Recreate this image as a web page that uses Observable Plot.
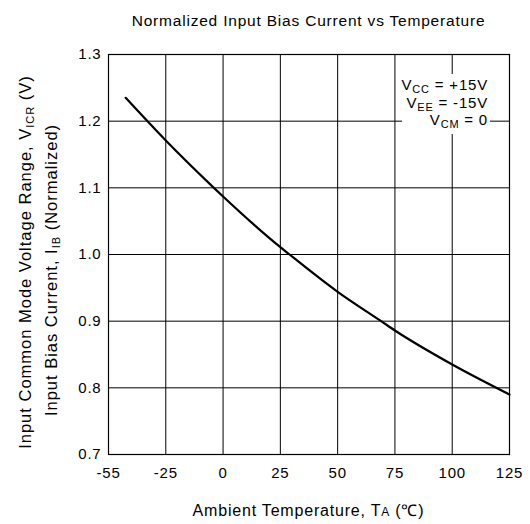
<!DOCTYPE html>
<html><head><meta charset="utf-8">
<script src="https://cdn.jsdelivr.net/npm/d3@7"></script>
<script src="https://cdn.jsdelivr.net/npm/@observablehq/plot@0.6"></script>
<style>body{margin:0;background:#fff} svg{display:block}</style>
</head><body><div id="chart"></div>
<script>
const tempTicks = [-55, -25, 0, 25, 50, 75, 100, 125];
const biasTicks = [0.7, 0.8, 0.9, 1.0, 1.1, 1.2, 1.3];
const curveTemp = [-46, -25, -4, 0, 25, 29, 50, 69, 75, 100, 125];
const curveBias = [1.235, 1.171, 1.1, 1.087, 1.011, 1.0, 0.944, 0.9, 0.886, 0.835, 0.79];
const legendLines = [["V", "CC", " = +15V"], ["V", "EE", " = -15V"], ["V", "CM", " = 0"]];
const titleText = "Normalized Input Bias Current vs Temperature";

// the original axis spaces -55..-25 like the other 25-degree steps
const warp = t => t >= -25 ? t : -25 + (t + 25) * 25 / 30;
const unwarp = u => u >= -25 ? u : -25 + (u + 25) * 30 / 25;
const data = curveTemp.map((t, i) => ({t: warp(t), v: curveBias[i]}));

const font = "'Liberation Sans', Arial, sans-serif";
const W = 530, H = 524;
const plot = Plot.plot({
  width: W, height: H,
  marginLeft: 108, marginRight: 21, marginTop: 54, marginBottom: 70,
  style: {fontFamily: font, fontSize: "15px", background: "#fff", color: "#000", overflow: "visible", letterSpacing: "0.8px"},
  x: {domain: [warp(-55), 125]},
  y: {domain: [0.7, 1.3]},
  marks: [
    Plot.ruleX(tempTicks.map(warp), {stroke: "#000", strokeWidth: 1}),
    Plot.ruleY(biasTicks, {stroke: "#000", strokeWidth: 1}),
    Plot.frame({stroke: "#000", strokeWidth: 1.2}),
    Plot.line(data, {x: "t", y: "v", curve: "monotone-x", stroke: "#000", strokeWidth: 2.2}),
    Plot.axisX({ticks: tempTicks.map(warp), tickFormat: u => String(Math.round(unwarp(u))), tickSize: 0, tickPadding: 13, fontSize: 15, label: null}),
    Plot.axisY({ticks: biasTicks, tickFormat: d3.format(".1f"), tickSize: 0, tickPadding: 7, fontSize: 15, label: null})
  ]
});
document.getElementById("chart").append(plot);
const svg = d3.select(plot);
const cx = (W - 21 + 108) / 2;

svg.append("text").attr("x", cx).attr("y", 26).attr("text-anchor", "middle")
  .attr("font-size", 15.5).text(titleText);

// x title
const xt = svg.append("text").attr("x", cx).attr("y", 516).attr("text-anchor", "middle").attr("font-size", 16);
xt.append("tspan").text("Ambient Temperature, T");
xt.append("tspan").attr("font-size", 12).text("A");
xt.append("tspan").text(" (℃)");

// y titles
function yTitle(x, y, parts) {
  const t = svg.append("text").attr("transform", `translate(${x},${y}) rotate(-90)`)
    .attr("text-anchor", "middle").attr("font-size", 16.5).attr("letter-spacing", "1px");
  parts.forEach(([s, sub]) => {
    const sp = t.append("tspan").text(s);
    if (sub) sp.attr("font-size", 11).attr("dy", 3);
    else sp.attr("dy", sub === false ? -3 : 0);
  });
}
yTitle(31, 262, [["Input Common Mode Voltage Range, V"], ["ICR", true], [" (V)", false]]);
yTitle(57, 270, [["Input Bias Current, I"], ["IB", true], [" (Normalized)", false]]);

// legend box
svg.append("rect").attr("x", 402).attr("y", 74).attr("width", 88).attr("height", 60).attr("fill", "#fff");
legendLines.forEach(([a, b, c], i) => {
  const t = svg.append("text").attr("x", 488).attr("y", 90 + i * 17.5).attr("text-anchor", "end").attr("font-size", 15);
  t.append("tspan").text(a);
  t.append("tspan").attr("font-size", 11).attr("dy", 3).text(b);
  t.append("tspan").attr("dy", -3).text(c);
});
</script></body></html>
